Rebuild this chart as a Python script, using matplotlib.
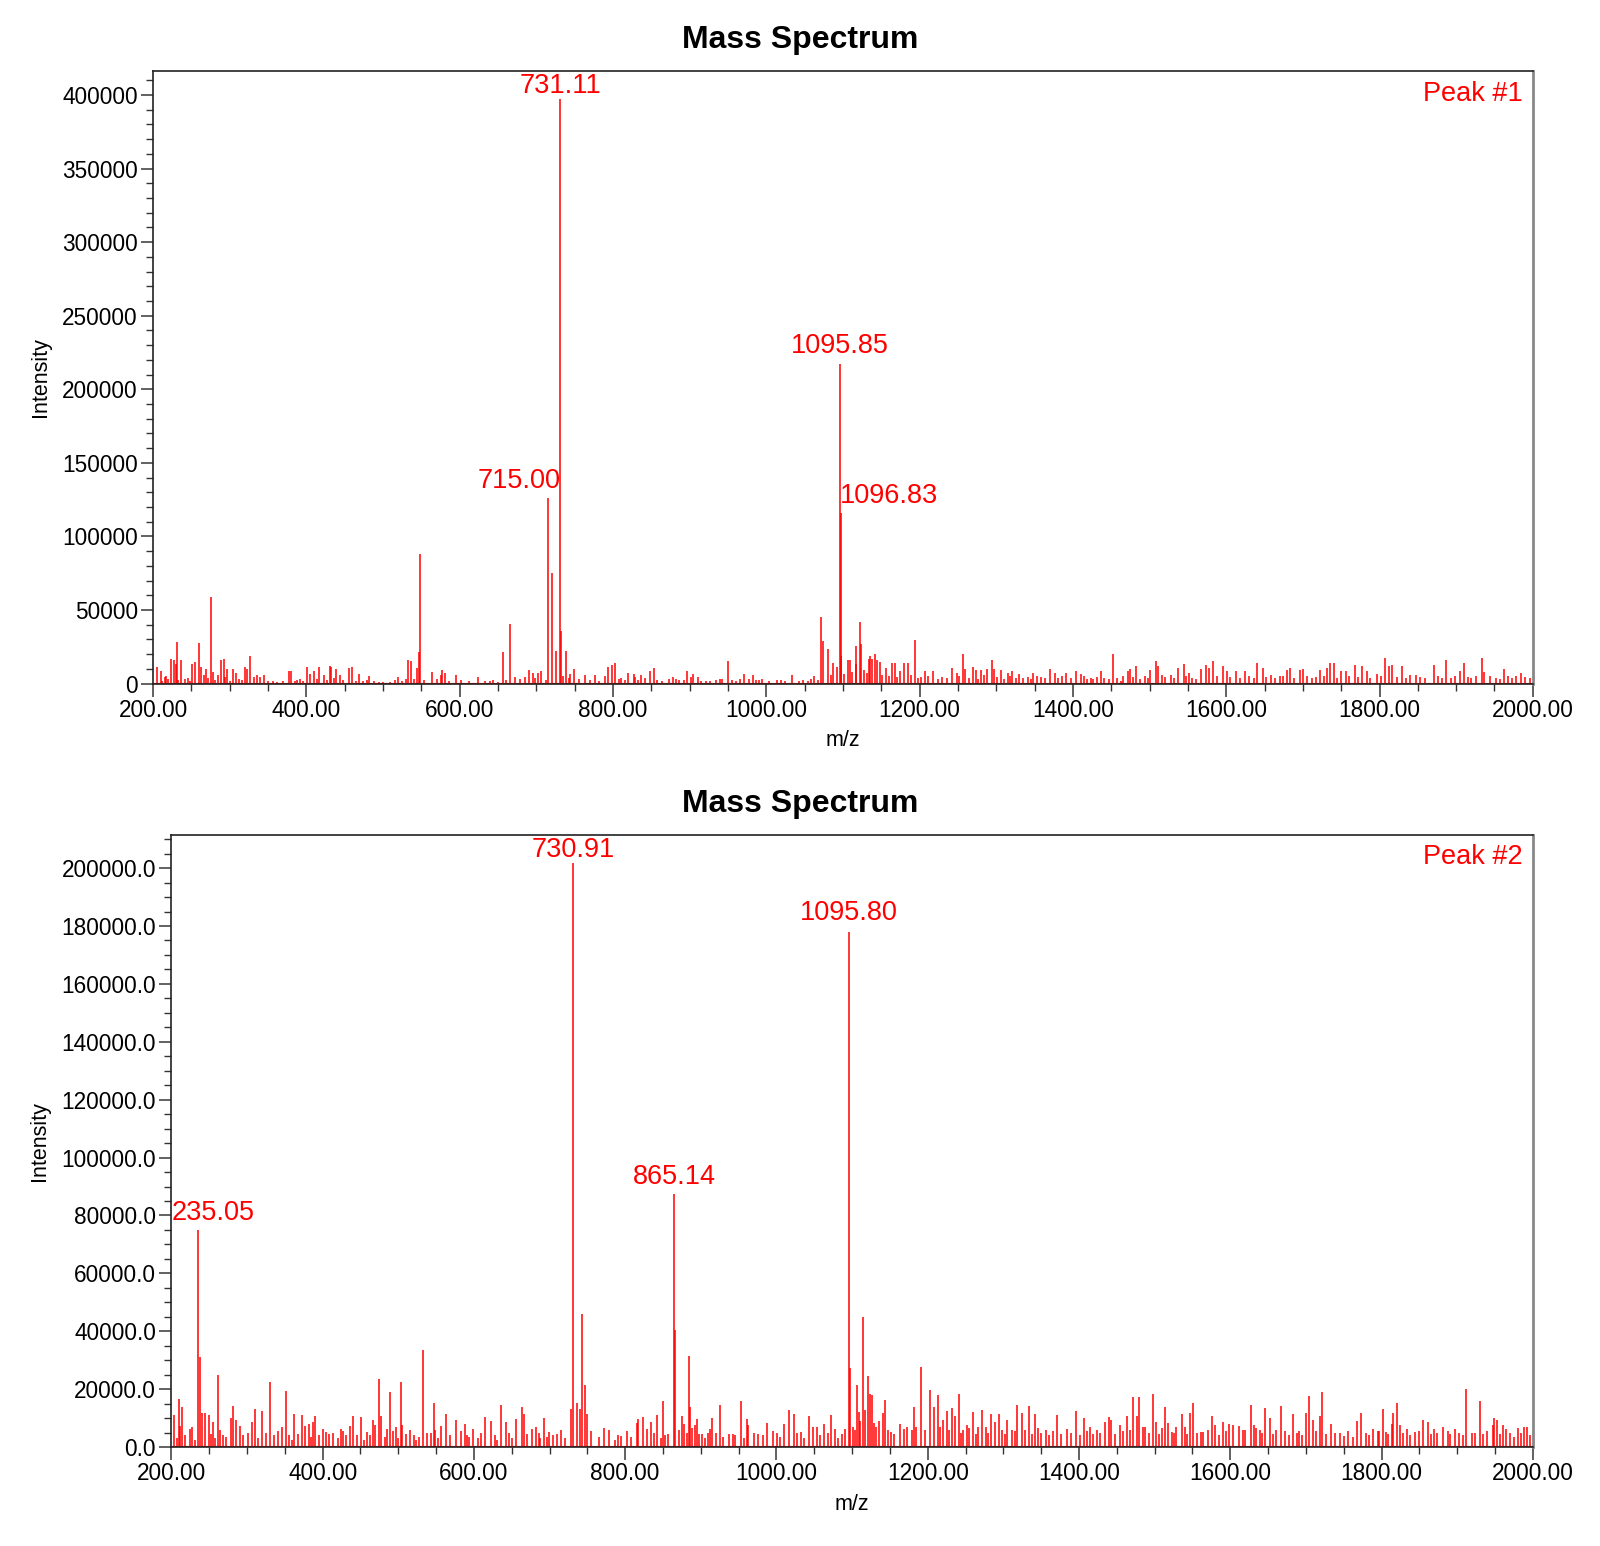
import matplotlib
matplotlib.use("Agg")
import matplotlib.pyplot as plt
from matplotlib.ticker import MultipleLocator, FormatStrFormatter

plt.rcParams['font.family'] = ['Liberation Sans', 'DejaVu Sans']

# ---- Peak #1 : m/z values and intensities ----
mz1_low = [205, 210, 215, 217, 223.5, 227, 230, 231, 237, 242, 251, 255, 259.6, 262,
           266.1, 268.7, 275.7, 278, 285, 288, 292, 297, 304, 308.7, 320, 322, 327,
           332.2, 335.7, 339.6, 344.4, 377, 380, 384.8, 392.2, 400.5, 405.3, 410.5,
           417, 423.5, 430.5, 432.7, 439, 444, 455, 460, 468.8, 479.2, 482.2, 494.4,
           509.2, 519.2, 530, 533, 536.6, 544.4, 547, 548.8, 564, 575.5, 577.5, 580.6,
           595, 623.6, 632.8, 643.7, 656, 665.3, 672.3, 684.9, 690, 695, 701.8, 706.6]
int1_low = [11100, 8900, 4300, 5400, 16800, 16100, 13600, 28600, 16100, 3400, 13600,
            14500, 27900, 11100, 5700, 9800, 58600, 8200, 6100, 16100, 16800, 9800,
            10000, 7000, 11100, 10000, 18600, 4300, 6100, 4300, 5700, 8900, 8400, 2000,
            3400, 11100, 6800, 8400, 11100, 6100, 11800, 11100, 10000, 6100, 10400,
            11100, 6400, 2500, 5200, 1400, 1400, 4300, 3200, 15900, 15200, 10400, 21800,
            88000, 8200, 5700, 9500, 7000, 5700, 4300, 2000, 2700, 21800, 40800, 4300,
            4800, 9500, 7000, 7000, 8400]

mz1_mid = [715.0, 720.6, 725.4, 731.11, 732.3, 739, 744.5, 749, 763, 776, 789, 793.7,
           799, 802, 807.6, 819.7, 827.5, 829.2, 837, 848.4, 853.6, 873.2, 878.8,
           886.2, 896.2, 901.4, 904.5, 911, 921, 934, 939.7, 942.7, 950, 960, 965.8,
           971, 977.5, 982, 986.2, 995, 1014.5, 1019.7, 1034, 1042.8, 1054.5, 1062,
           1071.9, 1073.6, 1080.6, 1084, 1087.6, 1092.8, 1095.85, 1096.83, 1098,
           1101.5, 1106.7, 1109.3, 1116.7, 1117.6, 1122.4, 1124, 1127.6, 1133.7,
           1135.4, 1138.4, 1141.5, 1145, 1148.4, 1155.8, 1164.5, 1167.6, 1174.5, 1179,
           1185, 1194.5, 1202.4, 1206.7, 1218, 1229.7, 1242.8, 1248.5, 1257, 1259.8,
           1270, 1273.1, 1280.6, 1288.5, 1295, 1297.2, 1305.9, 1314.7, 1321, 1329.8,
           1341.5, 1348.5, 1358, 1370.2, 1376.3]
int1_mid = [126000, 75000, 22200, 397000, 35900, 22200, 6800, 10000, 6100, 6100, 5000,
            11100, 12500, 13800, 3200, 7500, 6800, 4800, 5700, 8400, 10400, 3400, 4800,
            2500, 8400, 4800, 6800, 4300, 2000, 2700, 3400, 3400, 15700, 2000, 3400,
            6800, 3400, 6100, 2500, 3400, 2500, 2500, 6100, 1600, 2000, 5000, 45600,
            28800, 23400, 6100, 14300, 11100, 217000, 116000, 18600, 6800, 15900, 15900,
            13200, 25400, 41800, 27200, 9500, 16600, 18600, 16600, 20400, 15900, 14800,
            10400, 14300, 14300, 8400, 14300, 13800, 29500, 4300, 8400, 8400, 4800,
            10400, 7500, 20000, 10000, 11600, 9500, 9000, 10000, 15900, 10000, 9500,
            7500, 8400, 6800, 4800, 7500, 4800, 10000, 7500]

mz1_high = [1391, 1403.5, 1410.5, 1414.8, 1423.3, 1426.1, 1431.2, 1436.6, 1446.6,
            1451.8, 1462.7, 1471.8, 1474, 1481.8, 1494.4, 1501, 1508.3, 1511.4, 1516.1,
            1527.9, 1536.6, 1544.4, 1551, 1567.5, 1573, 1577.9, 1583, 1595.3, 1601,
            1613.1, 1624.9, 1640, 1648, 1658.4, 1670.5, 1679, 1683.6, 1696.6, 1699.7,
            1722, 1731.4, 1735, 1740, 1749.7, 1756.6, 1767.5, 1777, 1783.6, 1796.7,
            1806.7, 1812, 1816.7, 1829.3, 1840.1, 1848, 1870.6, 1887, 1905, 1909.7,
            1926.2, 1933.6, 1936.6, 1962.8, 1978.4, 1985, 1996]
int1_high = [7500, 8900, 6800, 5400, 3900, 3400, 4300, 8900, 3400, 20400, 2000, 8900,
             9800, 11800, 5400, 9500, 15200, 11800, 6100, 6100, 10400, 13600, 7500,
             10000, 12500, 10400, 15700, 12300, 8400, 8400, 8400, 13800, 10400, 6100,
             5000, 9500, 10400, 9500, 10000, 9500, 10400, 13800, 13800, 8400, 8400,
             12500, 12300, 8400, 6800, 17700, 11800, 12500, 11800, 6100, 6100, 12500,
             16100, 8900, 13800, 5200, 17300, 8200, 10000, 5000, 7000, 3900]

# small background peaks between the larger ones
mz1_small = [212, 219, 233, 245, 248, 272, 281, 294, 300, 312, 316, 350, 356, 362, 370,
             388, 396, 414, 427, 436, 448, 465, 474, 488, 500, 515, 525, 540, 553, 570,
             586, 602, 612, 640, 650, 661, 678, 698, 712, 735, 742, 755, 770, 782, 811,
             815, 833, 842, 858, 864, 882, 892, 915, 927, 955, 990, 1004, 1025, 1048,
             1058, 1067, 1112, 1131, 1151, 1160, 1171, 1189, 1198, 1211, 1224, 1236,
             1252, 1264, 1276, 1284, 1301, 1310, 1318, 1326, 1335, 1345, 1353, 1363,
             1381, 1386, 1397, 1418, 1441, 1457, 1466, 1478, 1488, 1498, 1520, 1532,
             1548, 1556, 1561, 1588, 1605, 1618, 1630, 1636, 1652, 1664, 1674, 1688,
             1706, 1712, 1717, 1727, 1745, 1760, 1772, 1788, 1802, 1823, 1835, 1853,
             1860, 1876, 1882, 1893, 1898, 1915, 1920, 1944, 1952, 1957, 1968, 1973, 1990]
int1_small = [2000, 3000, 2500, 4000, 2000, 3500, 2500, 4500, 2000, 3000, 2200, 1500,
              2000, 1200, 1800, 2500, 1500, 3000, 2500, 4000, 2800, 2000, 1500, 1800,
              1200, 2200, 1600, 3000, 2500, 3000, 1800, 2200, 1500, 1800, 1200, 2500,
              3000, 4000, 2500, 5000, 3500, 3000, 2800, 2000, 3500, 2500, 2800, 3800,
              2800, 2000, 3000, 2500, 1500, 2000, 2200, 2200, 1500, 1800, 2200, 3000,
              2500, 8000, 7000, 6000, 5000, 4500, 6000, 3500, 5000, 3000, 4000, 5500,
              4000, 3000, 6000, 4500, 3000, 5000, 4000, 3500, 3000, 5000, 4000, 3500,
              5000, 4000, 3000, 4000, 3500, 5000, 4500, 3000, 4000, 4500, 3500, 5500,
              4000, 3000, 5000, 4500, 3500, 5000, 4000, 4500, 3500, 5500, 4000, 5000,
              3500, 4500, 5500, 4000, 5000, 4500, 3500, 5000, 4500, 3500, 4500, 3500,
              5000, 4000, 3500, 5000, 4500, 3500, 5000, 4000, 3000, 5500, 3500, 4500]

# ---- Peak #2 ----
mz2_low = [203.5, 210.1, 211.9, 214.1, 225.1, 227.3, 235.05, 237.5, 240.6, 244.5,
           249.8, 254.7, 261.7, 263.9, 268.8, 278.5, 281.5, 285.5, 290.4, 301, 306.7,
           310.2, 320.3, 330.9, 336.2, 340.6, 346.8, 352.1, 362.2, 367.1, 372.8, 377.2,
           381.6, 387.8, 390.4, 395.7, 400.1, 404.1, 414.2, 424.8, 430.5, 436.7, 440.7,
           451.3, 458.3, 467.1, 469.3, 474.6, 477.3, 485.6, 489.2, 496.7, 503.3, 505.5,
           515.2, 520.9, 528, 533.2, 538.5, 547.3, 548.7, 557, 563.2, 576.4, 588.3,
           590.5, 598.5, 614.8, 623.2, 636.4, 642.6, 655.8, 663.3, 666.8, 676.5, 681.8,
           692.8, 699.9, 705.2, 714.9]
int2_low = [11000, 16500, 7200, 13900, 6100, 6900, 75100, 31000, 11900, 11600, 11100,
            8500, 25000, 5800, 4100, 10000, 14100, 9500, 7300, 4800, 8700, 13100, 12500,
            22400, 4300, 5400, 6800, 19500, 11500, 4400, 11100, 7300, 7800, 8600, 10600,
            4300, 6100, 5300, 5000, 6400, 4200, 7300, 10700, 10300, 5300, 9500, 7700,
            23600, 10700, 6400, 19000, 7100, 22400, 7500, 5900, 4300, 3400, 33600, 4900,
            15100, 6000, 7200, 11300, 9200, 7900, 4300, 6200, 10500, 8900, 14700, 8600,
            9600, 14000, 11400, 6400, 6900, 10200, 5200, 4100, 5800]

mz2_mid = [728.1, 730.91, 736.9, 740.4, 743.5, 747.5, 750.1, 754.5, 772.2, 779.2, 794.2,
           803, 815.4, 817.6, 824.2, 828.5, 833.8, 842.6, 850.5, 852.7, 865.14, 866,
           871.7, 875.6, 877.8, 884, 885.8, 892.8, 894.6, 901.2, 910, 912.7, 915.3,
           925.4, 937.3, 945.3, 952.8, 960.7, 962.5, 976.1, 987.2, 995.1, 1000.4,
           1010.1, 1017.1, 1022.9, 1032.5, 1042.7, 1048.9, 1053.3, 1063, 1071.8,
           1077.5, 1086.3, 1091.2, 1095.8, 1097.4, 1101.8, 1107.1, 1108.8, 1115,
           1117.2, 1121.6, 1123.8, 1126.9, 1129.5, 1141.4, 1144.1, 1151.1, 1163.5,
           1168.3, 1173.2, 1178.9, 1182.4, 1190.8, 1203.1, 1208.4, 1213.7, 1219.9,
           1225.2, 1231.8, 1236.2, 1241.1, 1247.2, 1251.6, 1260.4, 1271.5, 1277.2,
           1283.4, 1289.5, 1294.8, 1305.4, 1311.1, 1318.2, 1324.4, 1334.5, 1342.4,
           1349.5, 1356.5, 1370.7, 1383.9, 1396.7, 1407.2, 1414.7, 1423.5]
int2_mid = [13300, 201800, 15300, 13000, 45800, 21400, 11300, 5700, 6600, 6000, 3800,
            5400, 8200, 9600, 10300, 6400, 8600, 11100, 16000, 4100, 87500, 40300, 6000,
            10700, 7800, 31400, 13800, 7700, 9800, 4400, 4700, 6400, 10200, 14400, 4400,
            4000, 15900, 9800, 7500, 4600, 8400, 5700, 4700, 8000, 12900, 11400, 5300,
            10700, 7000, 6900, 8100, 11100, 6100, 4600, 6100, 178100, 27400, 7100,
            21400, 12000, 45000, 12900, 24700, 18500, 18000, 8400, 11600, 16300, 5200,
            8000, 6100, 7100, 5800, 13800, 27800, 19700, 14000, 18000, 9500, 12500,
            13400, 10600, 18300, 5900, 7500, 12000, 12900, 6900, 11300, 8600, 11400,
            9200, 5800, 14400, 11800, 14100, 11400, 5000, 5800, 11100, 6400, 12300,
            10100, 7000, 5800]

mz2_high = [1434.5, 1439.4, 1442, 1454.4, 1463.2, 1472, 1477.3, 1479.9, 1485.2, 1487.9,
            1498.5, 1501.5, 1513.4, 1518.3, 1522.7, 1528.9, 1535.9, 1539.9, 1546.5,
            1551.4, 1561, 1564.6, 1576, 1580.4, 1591, 1598.1, 1604.2, 1611.3, 1616.6,
            1627.6, 1632, 1634.2, 1639.5, 1645.7, 1652.7, 1660.7, 1666.8, 1683.6,
            1691.5, 1700.3, 1704.7, 1709.2, 1718, 1721.9, 1733, 1745.3, 1750.6, 1767.3,
            1772.6, 1788.5, 1794.7, 1802.6, 1805.3, 1813.6, 1815.8, 1820.2, 1823.8,
            1834.3, 1843.6, 1854.6, 1860.8, 1869.6, 1881.1, 1887.7, 1896.5, 1912,
            1919.9, 1929.6, 1947.2, 1949, 1952.5, 1960.4, 1964.8, 1980.3, 1987.8, 1992.1]
int2_high = [8600, 10500, 9200, 7500, 10800, 17400, 10800, 17200, 6800, 6800, 18500,
             8800, 13800, 8200, 5100, 7100, 11400, 7100, 11600, 15300, 5200, 5300, 10800,
             7500, 8700, 8000, 7600, 7200, 5800, 14700, 7500, 6700, 5900, 13600, 10100,
             5900, 14100, 11400, 5400, 11800, 17500, 9200, 10800, 19000, 8000, 4700,
             3800, 8900, 11600, 6100, 5500, 13200, 5300, 8000, 11600, 15300, 7500, 6100,
             5300, 9200, 8600, 6100, 7100, 5500, 6100, 20200, 5000, 15900, 7700, 9900,
             9500, 7500, 6100, 6700, 7100, 7100]

mz2_small = [207, 218, 231, 252, 258, 272, 295, 315, 325, 356, 359, 385, 409, 420, 427,
             446, 455, 462, 482, 493, 500, 510, 524, 543, 552, 569, 583, 594, 605, 610,
             628, 631, 647, 651, 670, 686, 688, 696, 710, 720, 765, 786, 790, 808, 838,
             847, 857, 882, 889, 898, 905, 920, 930, 942, 957, 970, 982, 1005, 1027,
             1037, 1058, 1068, 1082, 1104, 1111, 1132, 1136, 1147, 1156, 1185, 1196,
             1216, 1228, 1244, 1255, 1264, 1267, 1280, 1298, 1302, 1315, 1328, 1338,
             1346, 1361, 1366, 1376, 1389, 1402, 1411, 1419, 1428, 1447, 1458, 1468,
             1492, 1506, 1510, 1525, 1543, 1556, 1570, 1585, 1595, 1620, 1642, 1656,
             1672, 1678, 1688, 1695, 1713, 1727, 1738, 1756, 1762, 1779, 1784, 1797,
             1809, 1828, 1838, 1849, 1866, 1873, 1891, 1902, 1908, 1924, 1934, 1940,
             1956, 1970, 1975, 1984, 1996]
int2_small = [3000, 4000, 2500, 4500, 3000, 3500, 4000, 3000, 5000, 4000, 2500, 3500,
              4500, 3000, 5500, 4000, 2500, 4000, 3500, 5500, 3000, 4500, 2500, 5000,
              3000, 4000, 5500, 3500, 3000, 5000, 4000, 2500, 5000, 3000, 4500, 5000,
              3000, 3500, 4500, 3000, 3500, 2500, 4000, 3500, 5000, 3000, 4500, 5000,
              6500, 4500, 3000, 5000, 3500, 4500, 3000, 5000, 4000, 3500, 5000, 3000,
              4000, 5000, 3000, 6000, 9000, 7000, 9000, 6000, 4500, 7000, 6000, 7000,
              6000, 5000, 6500, 4500, 7000, 5000, 6000, 4500, 5500, 6000, 4500, 6500,
              4000, 5500, 4500, 5000, 4000, 5500, 4500, 5000, 4500, 5500, 6000, 5000,
              4500, 6500, 5000, 4500, 5000, 6000, 4000, 5500, 6000, 5000, 4500, 5500,
              4000, 5000, 4000, 5500, 4500, 5000, 5500, 3500, 5000, 4000, 5500, 4500,
              5000, 4000, 5500, 4500, 5000, 4500, 5000, 4000, 5000, 4500, 5500, 4500,
              5000, 3500, 5000, 4000]

# labelled peaks: (m/z, intensity, x offset pt, y offset pt)
labels1 = [(731.11, 397000, 0, 0), (715.00, 126000, -21, 3), (1095.85, 217000, 0, 4),
           (1096.83, 116000, 35, 3)]
labels2 = [(730.91, 201800, 0, 0), (1095.80, 178100, 0, 4), (865.14, 87500, 0, 3),
           (235.05, 75100, 11, 3)]

fig = plt.figure(figsize=(16, 15.46), dpi=100)
ax1 = fig.add_axes([0.0957, 0.5578, 0.8623, 0.396])
ax2 = fig.add_axes([0.1071, 0.064, 0.8509, 0.396])

panels = [
    (ax1, mz1_low + mz1_mid + mz1_high + mz1_small,
     int1_low + int1_mid + int1_high + int1_small, labels1,
     'Peak #1', 416000, 50000, 10000, '%d', 0.9743),
    (ax2, mz2_low + mz2_mid + mz2_high + mz2_small,
     int2_low + int2_mid + int2_high + int2_small, labels2,
     'Peak #2', 211500, 20000, 5000, '%.1f', 0.4800),
]

for ax, mz, inten, labels, tag, ytop, ymaj, ymin_, yfmt, ty in panels:
    ax.vlines(mz, 0, inten, color='red', lw=1.1)
    ax.axhline(0, color='red', lw=1.5)
    ax.set_xlim(200, 2000)
    ax.set_ylim(0, ytop)
    ax.xaxis.set_major_locator(MultipleLocator(200))
    ax.xaxis.set_minor_locator(MultipleLocator(50))
    ax.yaxis.set_major_locator(MultipleLocator(ymaj))
    ax.yaxis.set_minor_locator(MultipleLocator(ymin_))
    ax.xaxis.set_major_formatter(FormatStrFormatter('%.2f'))
    ax.yaxis.set_major_formatter(FormatStrFormatter(yfmt))
    ax.tick_params(which='major', direction='out', length=9, width=1.3, color='#555',
                   labelsize=16.3, pad=2)
    ax.tick_params(which='minor', direction='out', length=5, width=1.0, color='#333')
    for s in ax.spines.values():
        s.set_color('#222')
        s.set_linewidth(1.2)
    ax.spines['right'].set_color('#888')
    ax.spines['right'].set_linewidth(2)
    ax.set_xlabel('m/z', fontsize=15.5, labelpad=6)
    ax.set_ylabel('Intensity', fontsize=15.5, labelpad=8)
    fig.text(0.5, ty, 'Mass Spectrum', ha='center', va='center', fontsize=23,
             fontweight='bold')
    ax.text(0.9926, 0.985, tag, transform=ax.transAxes, ha='right', va='top',
            color='red', fontsize=19.5)
    for x, y, dx, dy in labels:
        ax.annotate('%.2f' % x, (x, y), xytext=(dx, dy), textcoords='offset points',
                    ha='center', va='bottom', color='red', fontsize=19.5)

fig.savefig('out.png', dpi=100)
